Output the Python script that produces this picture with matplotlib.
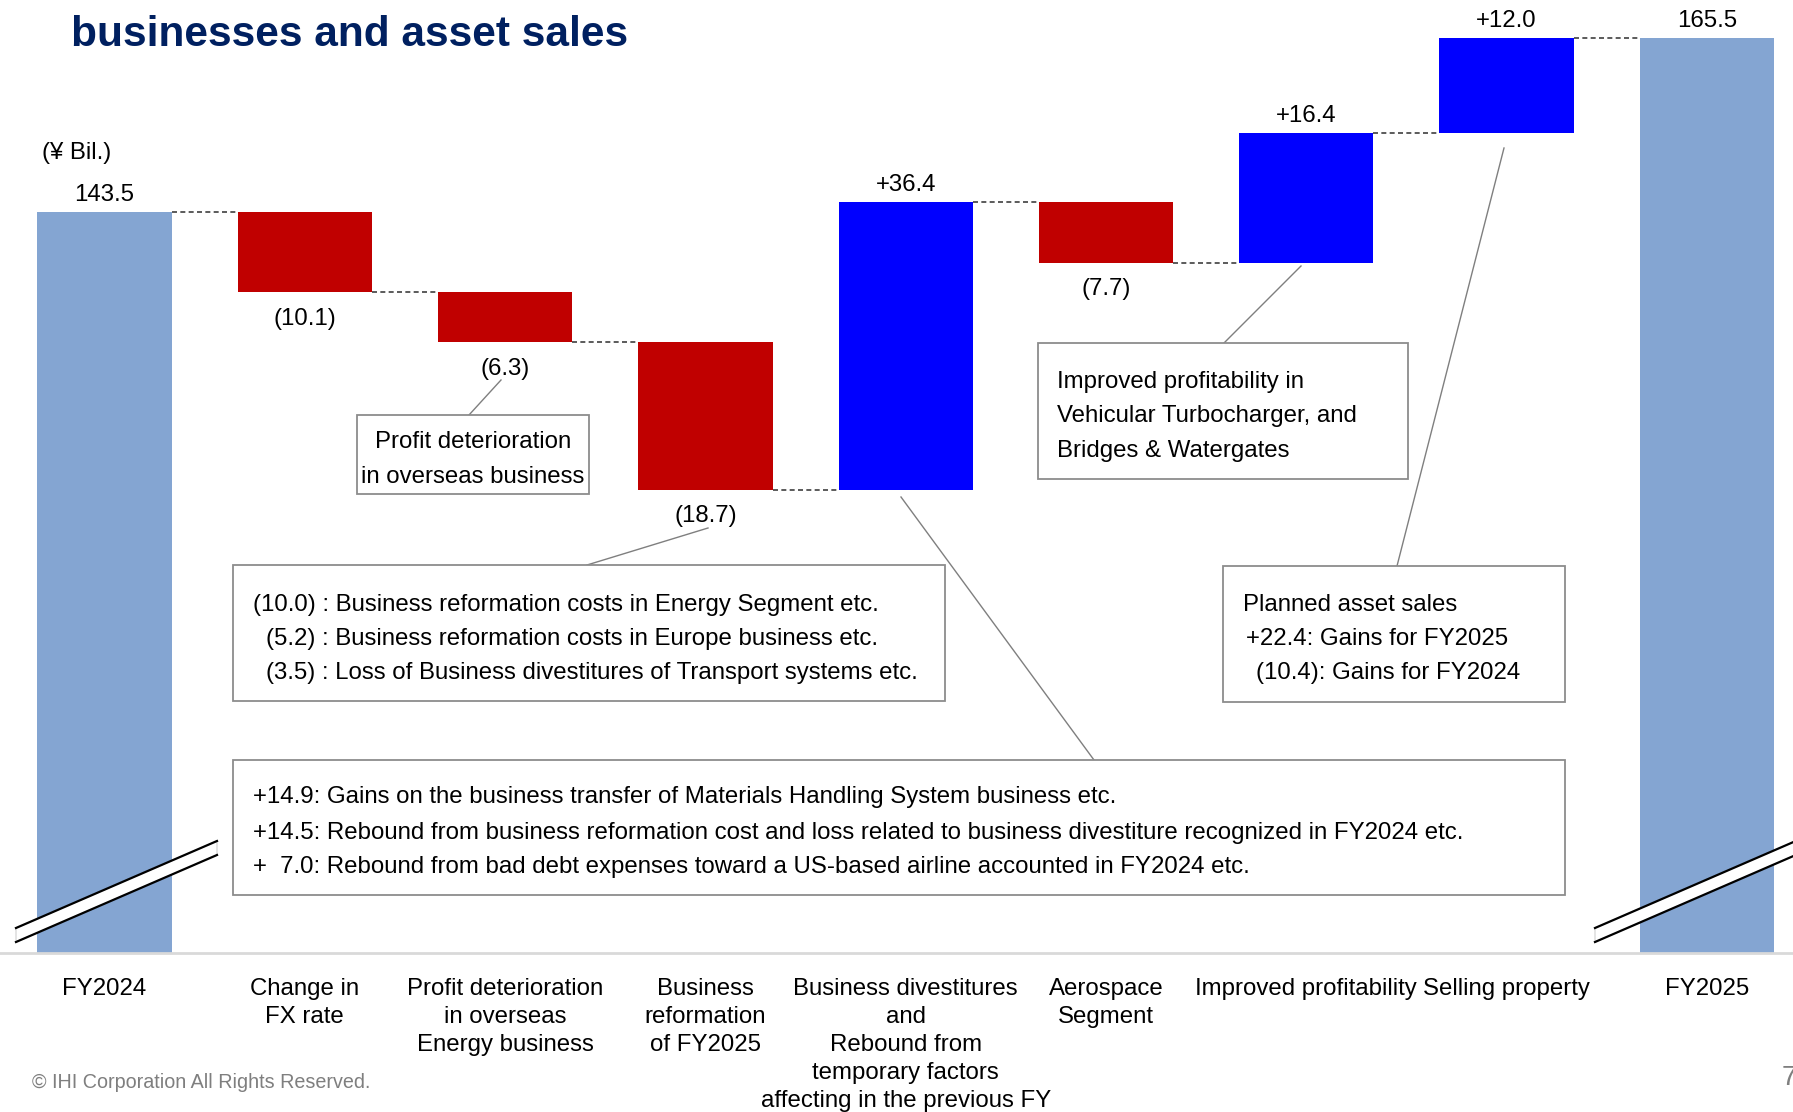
import numpy as np
import matplotlib.pyplot as plt
from matplotlib.patches import Rectangle, Polygon

plt.rcParams['font.family'] = ['Liberation Sans', 'DejaVu Sans']

# ---- data (¥ Bil.) ----
categories = [
    'FY2024',
    'Change in\nFX rate',
    'Profit deterioration\nin overseas\nEnergy business',
    'Business\nreformation\nof FY2025',
    'Business divestitures\nand\nRebound from\ntemporary factors\naffecting in the previous FY',
    'Aerospace\nSegment',
    'Improved profitability',
    'Selling property',
    'FY2025',
]
start_value = 143.5
changes = [-10.1, -6.3, -18.7, 36.4, -7.7, 16.4, 12.0]
end_value = 165.5

RED = '#C00000'
BLUE = '#0000FF'
TOTAL = '#84A5D2'
BOX_EDGE = '#8c8c8c'
FS = 17.25

W, H = 1793, 1112
fig = plt.figure(figsize=(W / 100, H / 100), dpi=100)

# main axes sized so the bars sit where the slide has them (y axis is "broken")
ax = fig.add_axes([0, (H - 953) / H, 1, 953 / H])
ax.set_xlim(-0.522, 8.43)
ax.set_ylim(49.85, 170.34)

x = np.arange(len(categories))
bar_w = 0.67

# totals
ax.bar([x[0], x[-1]], [start_value, end_value], width=bar_w, color=TOTAL, zorder=2)

# changes
prev = start_value + np.concatenate([[0], np.cumsum(changes)[:-1]])
after = prev + np.array(changes)
bottoms = np.minimum(prev, after)
heights = np.abs(changes)
colors = [BLUE if c > 0 else RED for c in changes]
ax.bar(x[1:-1], heights, bottom=bottoms, width=bar_w, color=colors, zorder=2)

# dashed connectors between bars
levels = np.concatenate([[start_value], after])
for i, lv in enumerate(levels):
    ax.hlines(lv, x[i] + bar_w / 2, x[i + 1] - bar_w / 2, colors='#404040',
              linestyles=(0, (3, 2)), lw=1.2, zorder=1)

# value labels
def add_label(xi, y, text, above):
    off = 17 if above else -26.5
    ax.annotate(text, (xi, y), xytext=(0, off), textcoords='offset pixels',
                ha='center', va='center', fontsize=FS)

add_label(x[0], start_value, f'{start_value:.1f}', True)
add_label(x[-1], end_value, f'{end_value:.1f}', True)
for i, c in enumerate(changes):
    if c > 0:
        add_label(x[i + 1], after[i], f'+{c:.1f}', True)
    else:
        add_label(x[i + 1], after[i], f'({abs(c):.1f})', False)

ax.set_xticks(x, categories, fontsize=FS, linespacing=1.35)
ax.tick_params(axis='x', length=0, pad=18)
ax.set_yticks([])
for s in ['top', 'left', 'right']:
    ax.spines[s].set_visible(False)
ax.spines['bottom'].set_color('#d9d9d9')
ax.spines['bottom'].set_linewidth(2)

# ---- overlay in slide pixels for notes, boxes, break marks ----
ov = fig.add_axes([0, 0, 1, 1])
ov.set_xlim(0, W)
ov.set_ylim(H, 0)
ov.axis('off')


def note_box(x0, y0, x1, y1):
    ov.add_patch(Rectangle((x0, y0), x1 - x0, y1 - y0, facecolor='white',
                           edgecolor=BOX_EDGE, lw=1.3, zorder=3))


def leader(p0, p1):
    ov.plot([p0[0], p1[0]], [p0[1], p1[1]], color='#7f7f7f', lw=1, zorder=2)


def break_mark(xa, xb, ya_top, yb_top, gap):
    pts = [(xa, ya_top), (xb, yb_top), (xb, yb_top + gap), (xa, ya_top + gap)]
    ov.add_patch(Polygon(pts, closed=True, facecolor='white', edgecolor='#d0d0d0',
                         lw=0.8, zorder=4))
    ov.plot([xa, xb], [ya_top, yb_top], color='black', lw=1.6, zorder=5)
    ov.plot([xa, xb], [ya_top + gap, yb_top + gap], color='black', lw=1.6, zorder=5)


break_mark(16, 217, 928, 841, 14)
break_mark(1595, 1805, 928, 837, 14)

# title (first line is cut off on the slide)
ov.text(71, 46, 'businesses and asset sales', fontsize=30.5, fontweight='bold',
        color='#002060', va='baseline', ha='left')

ov.text(42, 152.5, '(¥ Bil.)', fontsize=FS, va='center', ha='left')

# box: overseas business
note_box(357, 415, 589, 494)
leader((501, 380), (469, 415))
ov.text(473, 442, 'Profit deterioration', fontsize=FS, ha='center', va='center', zorder=6)
ov.text(473, 477, 'in overseas business', fontsize=FS, ha='center', va='center', zorder=6)

# box: business reformation details
note_box(233, 565, 945, 701)
leader((708, 528), (587, 565))
ov.text(253, 605, '(10.0) : Business reformation costs in Energy Segment etc.',
        fontsize=FS, va='center', zorder=6)
ov.text(266, 639, '(5.2) : Business reformation costs in Europe business etc.',
        fontsize=FS, va='center', zorder=6)
ov.text(266, 673.5, '(3.5) : Loss of Business divestitures of Transport systems etc.',
        fontsize=FS, va='center', zorder=6)

# box: improved profitability
note_box(1038, 343, 1408, 479)
leader((1301, 266), (1224, 343))
for yy, t in zip([382, 416, 450.5], ['Improved profitability in',
                                     'Vehicular Turbocharger, and',
                                     'Bridges & Watergates']):
    ov.text(1057, yy, t, fontsize=FS, va='center', zorder=6)

# box: asset sales
note_box(1223, 566, 1565, 702)
leader((1504, 148), (1397, 566))
ov.text(1243, 605, 'Planned asset sales', fontsize=FS, va='center', zorder=6)
ov.text(1246, 639, '+22.4: Gains for FY2025', fontsize=FS, va='center', zorder=6)
ov.text(1256, 673.5, '(10.4): Gains for FY2024', fontsize=FS, va='center', zorder=6)

# box: divestitures / rebound
note_box(233, 760, 1565, 895)
leader((901, 497), (1094, 760))
for yy, t in zip([797, 832.5, 867], [
        '+14.9: Gains on the business transfer of Materials Handling System business etc.',
        '+14.5: Rebound from business reformation cost and loss related to business divestiture recognized in FY2024 etc.',
        '+  7.0: Rebound from bad debt expenses toward a US-based airline accounted in FY2024 etc.']):
    ov.text(253, yy, t, fontsize=FS, va='center', zorder=6)

# footer
ov.text(32, 1082, '© IHI Corporation All Rights Reserved.', fontsize=14.2,
        color='#7f7f7f', va='center')
ov.text(1782, 1078, '7', fontsize=20, color='#7f7f7f', va='center')

fig.savefig('out.png', dpi=100)
